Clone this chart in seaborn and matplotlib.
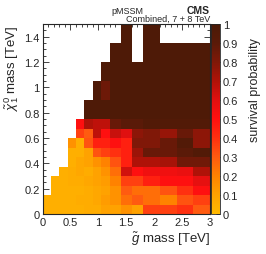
"""
pMSSM survival probability in the gluino / neutralino mass plane
"""

import numpy as np
import matplotlib
matplotlib.use("Agg")
import matplotlib.pyplot as plt
from matplotlib.colors import LinearSegmentedColormap
import seaborn as sns

sns.set_style("ticks")
plt.rcParams["font.family"] = ["Liberation Sans", "DejaVu Sans"]
plt.rcParams["mathtext.fontset"] = "custom"
plt.rcParams["mathtext.rm"] = "Liberation Sans"
plt.rcParams["mathtext.it"] = "Liberation Sans:italic"

# variable bin edges [TeV]
x_edges = [0, 0.15, 0.3, 0.45, 0.6, 0.75, 0.9, 1.05, 1.2, 1.4, 1.6, 1.8, 2.1, 2.4, 2.7, 3.0]
y_edges = [0, 0.075, 0.15, 0.225, 0.3, 0.375, 0.45, 0.525, 0.6, 0.675, 0.75,
           0.9, 1.05, 1.2, 1.35, 1.5]

n = np.nan
# survival probability, one row per y bin (bottom to top), one column per x bin
r00 = [0.05, 0.05, 0.05, 0.05, 0.05, 0.06, 0.06, 0.10, 0.10, 0.15, 0.10, 0.36, 0.36, 0.40, 0.30]
r01 = [0.05, 0.05, 0.05, 0.05, 0.06, 0.06, 0.08, 0.12, 0.15, 0.25, 0.30, 0.25, 0.20, 0.32, 0.36]
r02 = [n, 0.05, 0.05, 0.05, 0.05, 0.06, 0.08, 0.10, 0.15, 0.30, 0.25, 0.25, 0.32, 0.40, 0.50]
r03 = [n, 0.05, 0.05, 0.06, 0.06, 0.08, 0.10, 0.12, 0.20, 0.36, 0.36, 0.45, 0.50, 0.50, 0.58]
r04 = [n, n, 0.05, 0.06, 0.08, 0.06, 0.10, 0.15, 0.25, 0.63, 0.50, 0.55, 0.55, 0.57, 0.70]
r05 = [n, n, n, 0.05, 0.08, 0.10, 0.15, 0.20, 0.32, 0.45, 0.70, 0.70, 0.72, 0.84, 0.84]
r06 = [n, n, n, 0.05, 0.05, 0.10, 0.32, 0.36, 0.40, 0.45, 0.74, 0.86, 0.86, 0.90, 0.95]
r07 = [n, n, n, 0.15, 0.05, 0.32, 0.45, 0.45, 0.50, 0.45, 0.80, 0.80, 0.86, 0.95, 0.77]
r08 = [n, n, n, n, 0.36, 0.30, 0.67, 0.50, 0.65, 0.60, 0.77, 0.80, 0.75, 0.86, 0.77]
r09 = [n, n, n, n, 0.50, 0.70, 0.67, 0.67, 0.86, 0.90, 0.90, 0.95, 0.95, 0.95, 0.95]
r10 = [n, n, n, n, n, 0.97, 0.97, 0.97, 0.97, 0.97, 0.97, 0.97, 0.97, 0.97, 0.97]
r11 = [n, n, n, n, n, n, 0.97, 0.85, 0.97, 0.97, 0.97, 0.97, 0.97, 0.97, 0.97]
r12 = [n, n, n, n, n, n, n, 0.97, 0.97, 0.97, 0.97, 0.97, 0.97, 0.97, 0.97]
r13 = [n, n, n, n, n, n, n, n, 0.97, 0.97, n, 0.97, 0.97, 0.97, 0.97]
r14 = [n, n, n, n, n, n, n, n, n, 0.97, n, 0.97, n, n, n]
rows = [r00, r01, r02, r03, r04, r05, r06, r07, r08, r09, r10, r11, r12, r13, r14]

x_ticks = [0, 0.5, 1, 1.5, 2, 2.5, 3]
y_ticks = [0, 0.2, 0.4, 0.6, 0.8, 1, 1.2, 1.4]
z_ticks = [0, 0.1, 0.2, 0.3, 0.4, 0.5, 0.6, 0.7, 0.8, 0.9, 1]

# heatmap needs equal cells: split the variable bins into a fine grid
dx, dy = 0.05, 0.075
x_rep = np.rint(np.diff(x_edges) / dx).astype(int)
y_rep = np.rint(np.diff(y_edges) / dy).astype(int)
grid = np.repeat(np.repeat(np.array(rows), y_rep, axis=0), x_rep, axis=1)

cmap = LinearSegmentedColormap.from_list("surv", [
    (0.0, "#ffba00"), (0.1, "#ffa200"), (0.2, "#ff8200"), (0.3, "#ff5a10"),
    (0.4, "#ff3010"), (0.5, "#ff1010"), (0.6, "#e01010"), (0.7, "#b01208"),
    (0.8, "#801808"), (0.9, "#5a1a08"), (1.0, "#4a1a06")])

W, H = 266, 255
fig = plt.figure(figsize=(W / 100, H / 100), dpi=100)
ax = fig.add_axes([42.5 / W, 40 / H, 167.5 / W, 190 / H])
cax = fig.add_axes([211 / W, 40 / H, 9 / W, 190 / H])

sns.heatmap(grid, ax=ax, cmap=cmap, vmin=0, vmax=1, cbar_ax=cax,
            xticklabels=False, yticklabels=False, linewidths=0)
ax.set_ylim(0, grid.shape[0])
ax.set_xlim(0, grid.shape[1])
for s in ax.spines.values():
    s.set_visible(True)
    s.set_linewidth(0.8)

ax.set_xticks([v / dx for v in x_ticks])
ax.set_xticklabels([f"{v:g}" for v in x_ticks], fontsize=8)
ax.set_xticks(np.arange(0, 3.01, 0.1) / dx, minor=True)
ax.set_yticks([v / dy for v in y_ticks])
ax.set_yticklabels([f"{v:g}" for v in y_ticks], fontsize=8)
ax.set_yticks(np.arange(0, 1.51, 0.05) / dy, minor=True)
ax.tick_params(which="both", direction="in", top=True, right=True, width=0.6)
ax.tick_params(which="major", length=4, pad=2)
ax.tick_params(which="minor", length=2)

ax.set_xlabel(r"$\tilde{g}$ mass [TeV]", fontsize=9.5, ha="right", x=1.0, labelpad=2)
ax.set_ylabel(r"$\tilde{\chi}^{0}_{1}$ mass [TeV]", fontsize=9.5, ha="right", y=1.0, labelpad=2)

cbar = ax.collections[0].colorbar
cbar.set_ticks(z_ticks)
cbar.set_ticklabels([f"{v:g}" for v in z_ticks])
cbar.ax.tick_params(direction="in", length=3, width=0.6, labelsize=8, pad=2)
cbar.outline.set_linewidth(0.6)
cbar.ax.set_ylabel("survival probability", fontsize=9, ha="right", y=0.93, labelpad=8)

fig.text(127 / W, 1 - 11 / H, "pMSSM", fontsize=6.5, ha="center", va="center")
fig.text(210 / W, 1 - 11 / H, "CMS", fontsize=7.5, weight="bold", ha="right", va="center")
fig.text(210 / W, 1 - 19.5 / H, "Combined, 7 + 8 TeV", fontsize=6.5, ha="right", va="center")

plt.savefig("out.png", dpi=100)
